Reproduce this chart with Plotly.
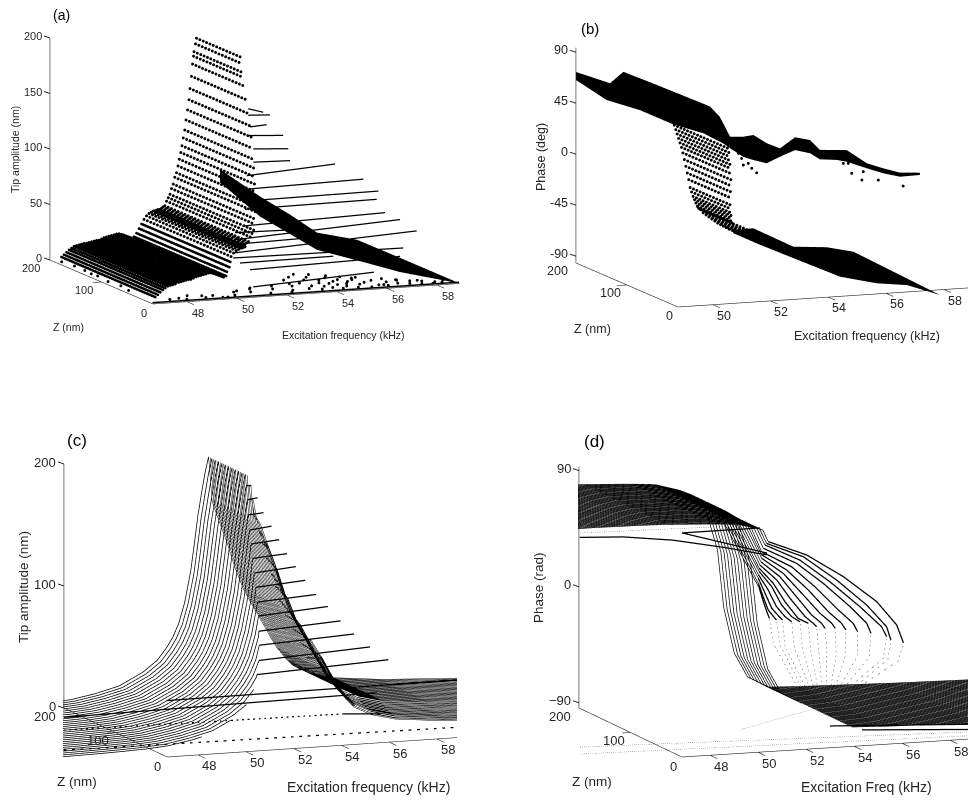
import math
import plotly.graph_objects as go

ORTHO_H = 0.5         # half view height per unit of camera distance
DIST = 2.0
W, H = 968, 800
BLACK = "#000000"
INK = "#262626"
FONT = "Liberation Sans, Arial, sans-serif"

# ---------------- shared levels ----------------
Z_LEVELS = [200,193.5,187,180.5,174,167.5,161,154.5,148,141.5,135,128.5,122,115.5,109,102.5,
            96,89.5,83,76.5,70,63.5,57,50.5,44,37.5,31,24.5,18,11.5]
Z_MIDS = [196.75,190.25,183.75,177.25,170.75,164.25,157.75,151.25,144.75,138.25,131.75,125.25,118.75,112.25,105.75,99.25,
          92.75,86.25,79.75,73.25,66.75,60.25,53.75,47.25,40.75,34.25,27.75,21.25,14.75]

# ---------------- panel (a) ----------------
A_ROW_F = [52.50,52.46,52.40,52.38,52.34,52.30,52.24,52.20,52.14,52.08,52.03,51.97,51.92,51.87,51.81,51.76,51.70,51.63,51.57,51.50,51.44,51.37,51.30,51.23,
           51.16,51.10,51.03,50.96,50.9,50.83,50.77,50.7,50.6,50.5,50.4,50.3,50.2,50.1,50.0,49.9,49.8,49.7,49.6,49.5,49.4,49.3,49.2,49.1,49,48.9,48.8,48.7,48.6,48.5,48.4,48.3,48.2,48.1,48,47.9,47.8,47.7,47.6,47.5,47.4,47.3,47.2,47.1]
A_ROW_A = [191,186,179,175,168,157,146,136,127,118,109,102,95,89,83,77,71,67,61,57,52,49,46,42,
           41,40,39,39,38.5,38,38,37,36,34,31,27,23,19,16,15,16,17,18,19,19.6,19.6,19,18.5,18,17.5,17,16,15,15,14.5,14,13.5,13,13,12.5,12,11.5,11,9.5,8,6,4,2]
A_ROW_ZEND = [113,110,106,103,100,93,87,81,76,71,66,62,58,55,52,49,46,44,41,39,37,36,35,33,
              33,32,32,31,31,31,30,30,30,29,28,26,24,22,20,20,20,20,20,20,20,20,20,20,20,20,20,20,20,19,19,19,19,19,19,18,18,18,18,18,18,18,18,18]
A_BAND_F = [[53.44,54.22,54.8,55.26,56.24,57.34,58.92],[53.44,54.22,54.8,55.26,56.64,57.34,58.92]]
A_BAND_Z = [[200,160,130,100,70,40,0],[200,160,130,100,70,40,0]]
A_BAND_A = [[71.5,53.7,42.5,31.5,29.6,17.6,0],[59.7,35.6,25,16,8,4.8,0]]
A_UP_Z  = [88,80,75,70,66,62,50,45,40,36,32,28,24,22,20,18,14,12]
A_UP_F0 = [52.26,52.1,52.06,51.89,52.01,51.93,51.42,51.32,51.21,51.06,50.91,50.56,50.35,50.37,50.26,50.22,50.41,50.77]
A_UP_A0 = [150,146,136.5,130,118.6,107.5,98.5,87.5,78,71.5,57.5,46.6,35.6,54.3,44.2,32.5,28.5,22.3]
A_UP_F1 = [52.86,52.97,52.73,53.29,53.41,53.4,54.95,55.98,56.48,56.33,56.58,57.1,57.68,52.97,54,57.02,54.14,56.77]
A_UP_A1 = [146,145,137.5,128,116.6,106.7,103.7,89.5,79,72.6,61,54.8,44.5,53.3,46,31.3,29,25.3]
A_SC_F = [46.9,47,47,46.95,47,46.9,47,46.9,47.6,48.2,48.5,49,49.4,49.8,50.2,50.6,51,51.3,51.6,52,52.2,52.6,52.9,53.1,53.3,53.4,53.5,53.6,53.7,53.8,53.9,54,54.1,54.1,54.2,54.3,54.4,54.4,54.5,54.6,54.7,54.7,54.8,54.9,55,55,55.1,55.2,55.3,55.4,55.5,55.6,55.7,55.8,56,56.1,56.3,56.5,56.6,56.8,57,57.2,57.4,57.6,57.8,58,58.2,48,49,49.6,50.4,51.2,52.4,53,55.6,56.2,57,57.7,58.4,58.6]
A_SC_Z = [190,170,150,135,125,100,80,60,14,10,24,12,18,8,14,30,22,38,12,28,40,18,34,60,20,44,70,30,14,55,80,25,40,65,18,50,35,75,12,28,58,42,20,66,30,48,12,38,58,24,44,10,30,52,16,36,12,26,40,18,30,14,24,10,20,8,14,16,20,8,26,34,10,44,50,16,32,24,10,18,6,12]
A_LOW_F = [50.77,55.6]
A_LOW_A = [8,14]

# ---------------- panel (b) ----------------
B_ROW_F = [52.2,52.25,52.3,52.35,52.4,52.45,52.5,52.55,52.6,52.65,52.7,52.75,52.8,52.85,52.9,52.95,53.0,53.05,53.1,53.2,53.3,53.4,53.5,53.6,53.7,53.8,53.9,54,54.1,54.25]
B_ROW_P = [20,16,12,8,4,0,-5,-11,-17,-23,-29,-36,-40,-44,-47,-50,-53,-55,-56,-59,-61,-63,-65,-67,-69,-70.5,-72,-73.5,-75,-76]
B_ROW_ZEND = [93,95,97,99,101,103,105,108,111,115,118,122,124,126,128,130,130,130,100,95,90,85,85,85,85,85,90,95,100,110]
B_TOP_F = [[48.8,49.98,50.44,50.45,50.47,50.6,50.78],[48.8,48.8,48.9,48.83,49.77,50.42,50.63]]
B_TOP_Z = [[200,200,200,135,32,20,10],[200,140,80,11,5,3,2]]
B_TOP_P = [[72.6,60.7,70,71,72,65,49],[65.5,59.5,62,63,54.7,45,40.8]]
B_LOW_F = [[54.24,54.23,54.91,55.53,56.1,56.84,57.87],[53.71,54.17,54.61,55.64,56.56,57.16,57.87]]
B_LOW_Z = [[200,160,120,90,70,40,0],[170,150,110,70,50,25,0]]
B_LOW_P = [[-76,-66.7,-76.3,-72,-73,-84.6,-100.6],[-72,-78,-82.7,-94.3,-97.8,-95.5,-100.6]]
B_WIG_F = [51.13,51.59,51.94,52.4,52.86,53.38,53.9,54.24,54.82,55.17,55.86,56.43,57.01,57.7]
B_WIG_TOP = [44.6,43.8,44.7,36.7,31.4,40.3,37,27.7,26.7,26,13.2,7.8,3,1.8]
B_WIG_BOT = [34.4,26,22.6,19,24,29,25.3,19.4,17.9,15.7,8.8,3.4,-0.6,-0.2]
B_WIG_Z = 30
B_TEN_F = [51.42,51.53,51.59,51.76,51.88,52.05,55.05,55.34,55.69,55.22,55.74,56.26,57.12]
B_TEN_P = [29.4,24.8,18.8,20,15.4,11.2,14.5,5.2,-1.3,14.2,6,-2.3,-9]

# ---------------- panel (c) ----------------
C_RISE_F = [42,43,44,45,46,47,48,49,50,50.6,51,51.25,51.5,51.75,52,52.15,52.3,52.45,52.6,52.75]
C_RISE_A = [3,3.4,3.8,4.3,5,6.5,10,15,25,34,44,52,63,80,105,127,150,168,185,198]
C_FALL_F = [52.9,53.2,53.5,53.85,54.2,54.55,54.9,55.25,55.6,56,56.3,57,58,60,63,66]
C_FALL_A = [161,144,128,106,88,75,63,50,38,28,22,15,10,6,3,2]
C_RIDGE_F = [52.75]*12 + [52.65,52.56,52.45,52.37,52.29,52.21,52.14,52.07,52.0,51.9,51.77,51.65,51.5,51.27,51,50.55,49.75,48.4]
C_RIDGE_A = [198]*12 + [190,180,169,158,148,137.6,127,116.7,106,96,85,75,64,54,43.5,33,22.5,12]
C_THICK_DF = [.21,.42,.64,.91,1.17,1.44,1.74,2.06,2.45,2.9,3.42,3.97,4.64,5.5]
C_THICK_DA = [0,1,1,2,2,2,3,3,3,4,4,4,5,5]
C_FALL_START = [52.77,52.73,52.66,52.73,52.75,52.77,52.81,52.87,52.92,52.98,53.19,53.35,53.45,53.6]
C_FALL_SHIFT = [0,0,0,.13,.24,.33,.41,.5,.56,.64,.64,.72,.85,.96]
C_LONG_Z = [10,5,3,3,1]
C_LONG_F = [[46.9,59.5],[42.5,55.6],[42.45,54.1],[54.1,55.7],[42.4,60]]
C_LONG_A = [[44,45],[37,40],[27,25],[25,23],[11,8]]
C_LONG_STYLE = ["solid","solid","dash","solid","dash"]

# ---------------- panel (d) ----------------
D_F = [42,44,46,47,48,49,50,51,51.5,52,52.2,52.6,52.86,53.3,53.85,54.7,56,58,60,63,66]
D_P = [80,80,79.5,79,78,77,75.5,70,66,60,48,21.7,-23,-59,-78,-87,-88,-89,-90,-91,-92]
D_ARC_Z = [128.5,122,115.5,109,102.5,96,89.5,83,76.5,70,63.5,57,50.5,44,37.5]
D_ARC_F = [[52.81,52.98,53.12,53.23],[52.63,52.83,53.04,53.32,53.39],[52.49,52.77,53.05,53.36,53.5],[52.36,52.76,53.11,53.46,53.74],[52.25,52.77,53.18,53.6,53.95],
           [52.11,52.69,53.18,53.73,54.15],[52,52.7,53.25,53.88,54.22,54.36],[51.89,52.69,53.32,54.01,54.43,54.57],[51.79,52.69,53.46,54.22,54.71,54.85],[51.65,52.69,53.59,54.43,54.98,55.16],
           [51.51,52.76,53.73,54.71,55.33,55.51],[51.44,52.83,53.94,55.06,55.75,55.93],[51.37,52.83,54.08,55.33,56.23,56.44],[51.3,52.83,54.22,55.47,56.3,56.48],[51.23,52.83,54.36,55.75,56.58,56.86]]
D_ARC_P = [[5.4,-5.2,-13.1,-18.3],[10.7,.1,-10.4,-17.2,-18.6],[16,4,-7.9,-14.8,-17.5],[20,7.9,-5.5,-13.6,-17.9],[23.9,11.7,-3,-12.6,-16.9],
           [27.9,15.6,.8,-12.8,-17.1],[31.8,19.4,4.6,-10.4,-16,-18.7],[35.8,23.2,8.3,-8,-15,-19],[39.8,27,10.7,-5.7,-14,-18],[43.8,30.9,14.4,-3.5,-13.1,-18.5],
           [47.6,34.5,17.9,-1.3,-12.4,-19],[51.6,38.3,21.5,2.1,-11.6,-19.6],[55.5,42,23.8,3,-13.5,-21.5],[58,45.9,26.2,5.4,-12.4,-23],[60.7,48.5,29.9,8.9,-10.1,-24.2]]
D_DOT_MID_F = [53.39,53.53,53.6,53.85,54.05,54.25,54.45,54.65,54.9,55.15,55.5,55.85,56.3,56.35,56.65]
D_DOT_MID_P = [-38]*15
D_DOT_END_F = [54.43,54.46,54.48,54.51,54.54,54.56,54.59,54.62,54.65,54.67,54.7,54.73,54.75,54.78,54.81]
D_DOT_END_P = [-74,-73,-72,-71,-70,-69,-68,-67,-66,-65,-63,-62,-61,-60,-58.5]
D_THICK_Z = [12,20,20,12,6]
D_THICK_F = [[42.83,44.63,46.7,48.8,50.63],[47.26,50.8],[47.26,50.5],[53.25,60],[54.46,60]]
D_THICK_P = [[78.6,76.9,72,64,56],[75.4,55.7],[75.4,75.5],[-79.7,-86],[-83,-89]]
D_DOTTED_Z = [27,5,1,25]
D_DOTTED_F = [[43.16,48.58],[42.69,60],[42.6,60],[49.8,52.7]]
D_DOTTED_P = [[78.8,77],[-82.4,-90],[-87,-92],[-81,-69]]

# ---------------- geometry of the four views (pixels in the page) ----------------
VIEWS = {
 "scene":  dict(O=(153,304), ex=(25,1.67),   ez=(-.515,.22),  ea=1.11,  f0=46.64, a0=0,   dom=(40,480,20,345),
                zr=(-12,215), fend=58.9, amax=200, aticks=[0,50,100,150,200], fticks=[48,50,52,54,56,58], fs=11, neg="-90"),
 "scene2": dict(O=(678,307), ex=(28.9,1.9),  ez=(-.51,.22),   ea=1.133, f0=48.8,  a0=-96, dom=(560,968,30,345),
                zr=(-110,100), fend=60, amax=94, aticks=[-90,-45,0,45,90], fticks=[50,52,54,56,58], fs=12.5, neg="-90"),
 "scene3": dict(O=(167,757), ex=(23.9,1.6),  ez=(-.515,.245), ea=1.22,  f0=46.7,  a0=0,   dom=(63,457,440,790),
                zr=(-10,215), fend=60, amax=200, aticks=[0,100,200], fticks=[48,50,52,54,56,58], fs=13, neg="-90"),
 "scene4": dict(O=(682,757), ex=(24,1.5),    ez=(-.515,.245), ea=1.29,  f0=46.83, a0=-94, dom=(578,968,440,790),
                zr=(-105,100), fend=60, amax=93, aticks=[-90,0,90], fticks=[48,50,52,54,56,58], fs=13, neg="\u221290"),
}
XR = (38,67)
YR = (-15,215)

def camera_for(v):
    dom = v["dom"]
    cw, ch = dom[1]-dom[0], dom[3]-dom[2]
    exd, exu = v["ex"]; ezd, ezu = v["ez"]
    s = math.sqrt((exu/exd)*(-ezu/ezd))
    th = math.asin(s)
    ph = math.pi + math.atan((-ezu/ezd)/s)
    sx = -exd/math.sin(ph); sy = ezd/math.cos(ph); sz = v["ea"]/math.cos(th)
    k = ch/(2*ORTHO_H*DIST)
    LX, LY, LZ = XR[1]-XR[0], YR[1]-YR[0], v["zr"][1]-v["zr"][0]
    asp = dict(x=sx*LX/k, y=sy*LY/k, z=sz*LZ/k)
    mf, mz, ma = sum(XR)/2, sum(YR)/2, sum(v["zr"])/2
    X = v["O"][0] + (mf-v["f0"])*exd + mz*ezd
    Y = v["O"][1] - (mf-v["f0"])*exu - mz*ezu - (ma-v["a0"])*v["ea"]
    cx, cy = dom[0]+cw/2, dom[2]+ch/2
    e = (math.cos(th)*math.cos(ph), math.cos(th)*math.sin(ph), math.sin(th))
    R = (-math.sin(ph), math.cos(ph), 0)
    U = (-math.sin(th)*math.cos(ph), -math.sin(th)*math.sin(ph), math.cos(th))
    al, be = (cx-X)/k, (Y-cy)/k
    c = [al*R[i]+be*U[i] for i in range(3)]
    eye = [c[i]+DIST*e[i] for i in range(3)]
    return asp, dict(center=dict(x=c[0],y=c[1],z=c[2]), eye=dict(x=eye[0],y=eye[1],z=eye[2]),
                     up=dict(x=0,y=0,z=1), projection=dict(type="orthographic"))

fig = go.Figure()

def lines(scene, xs, ys, zs, width=1.5, color=BLACK, dash="solid"):
    X, Y, Z = [], [], []
    for a, b, c in zip(xs, ys, zs):
        X += list(a)+[None]; Y += list(b)+[None]; Z += list(c)+[None]
    fig.add_trace(go.Scatter3d(x=X, y=Y, z=Z, mode="lines", scene=scene, showlegend=False, hoverinfo="skip",
                               line=dict(color=color, width=width, dash=dash)))

def dots(scene, xs, ys, zs, size=1.7, color=BLACK):
    fig.add_trace(go.Scatter3d(x=xs, y=ys, z=zs, mode="markers", scene=scene, showlegend=False, hoverinfo="skip",
                               marker=dict(color=color, size=size, line=dict(width=0))))

def sheet(scene, xs, ys, zs):
    fig.add_trace(go.Surface(x=xs, y=ys, z=zs, scene=scene, showscale=False, hoverinfo="skip",
                             colorscale=[[0,BLACK],[1,BLACK]], lighting=dict(ambient=1,diffuse=0,specular=0,roughness=1,fresnel=0)))

# ---- (a)
xa, ya, za, xb, yb, zb = [], [], [], [], [], []
for f, a, ze in zip(A_ROW_F, A_ROW_A, A_ROW_ZEND):
    for z in Z_LEVELS:
        if z >= ze:
            if a > 30:
                xa.append(f); ya.append(z); za.append(a)
            else:
                xb.append(f); yb.append(z); zb.append(a)
    if a <= 30:
        for z in Z_MIDS:
            if z >= ze:
                xb.append(f); yb.append(z); zb.append(a)
dots("scene", xa, ya, za, 1.7)
dots("scene", xb, yb, zb, 1.6)
sheet("scene", A_BAND_F, A_BAND_Z, A_BAND_A)
lines("scene", [[f0,f1] for f0,f1 in zip(A_UP_F0,A_UP_F1)], [[z,z] for z in A_UP_Z], [[a0,a1] for a0,a1 in zip(A_UP_A0,A_UP_A1)], 2.5)
lines("scene", [A_LOW_F], [[6,6]], [A_LOW_A], 2.5)
dots("scene", A_SC_F, A_SC_Z, [0]*len(A_SC_F), 1.7)
lines("scene", [[46.64,58.9]], [[1,1]], [[1,1]], 3)

# ---- (b)
xa, ya, za = [], [], []
for f, p, ze in zip(B_ROW_F, B_ROW_P, B_ROW_ZEND):
    for z in Z_LEVELS:
        if z >= ze:
            xa.append(f); ya.append(z); za.append(p)
dots("scene2", xa, ya, za, 1.7)
sheet("scene2", B_TOP_F, B_TOP_Z, B_TOP_P)
sheet("scene2", B_LOW_F, B_LOW_Z, B_LOW_P)
sheet("scene2", [B_WIG_F,B_WIG_F], [[B_WIG_Z]*len(B_WIG_F)]*2, [B_WIG_TOP,B_WIG_BOT])
dots("scene2", B_TEN_F, [B_WIG_Z]*len(B_TEN_F), B_TEN_P, 1.7)

# ---- (c)
rx, ry, rz, tx, ty, tz, fx, fy, fz = [], [], [], [], [], [], [], [], []
for i, z in enumerate(Z_LEVELS):
    fr, ar = C_RIDGE_F[i], C_RIDGE_A[i]
    xs = [f for f in C_RISE_F if f < fr] + [fr]
    as_ = [a for f, a in zip(C_RISE_F, C_RISE_A) if f < fr] + [ar]
    rx.append(xs); ry.append([z]*len(xs)); rz.append(as_)
    if i < 12+len(C_THICK_DF):
        if i >= 12:
            j = i-12
            tx.append([fr,fr+C_THICK_DF[j]]); ty.append([z,z]); tz.append([ar,ar+C_THICK_DA[j]])
            fs, sh = C_FALL_START[j], C_FALL_SHIFT[j]
        else:
            fs, sh = fr, 0
        ff = [fs] + [f-sh for f, a in zip(C_FALL_F, C_FALL_A) if a < ar and f-sh > fs]
        aa = [ar] + [a for f, a in zip(C_FALL_F, C_FALL_A) if a < ar and f-sh > fs]
        for zz in ([z, Z_MIDS[i]] if i < 25 else [z]):
            fx.append(ff); fy.append([zz]*len(ff)); fz.append(aa)
lines("scene3", rx, ry, rz, 1.5)
lines("scene3", fx, fy, fz, 1)
lines("scene3", tx, ty, tz, 2.5)
for z, f, a, st in zip(C_LONG_Z, C_LONG_F, C_LONG_A, C_LONG_STYLE):
    lines("scene3", [f], [[z,z]], [a], 2.5, dash=st)

# ---- (d)
rx, ry, rz = [], [], []
for z in Z_LEVELS[:11]:
    rx.append(D_F); ry.append([z]*len(D_F)); rz.append(D_P)
lowx, lowy, lowz, dx, dy, dz = [], [], [], [], [], []
ft = [f for f in D_F if f >= 54.7]
pt = [p for f, p in zip(D_F, D_P) if f >= 54.7]
fl2 = [f for f in D_F if f < 51.5]
pl2 = [p for f, p in zip(D_F, D_P) if f < 51.5]
for k, z in enumerate(D_ARC_Z):
    af, ap = D_ARC_F[k], D_ARC_P[k]
    fl = [f for f in D_F if f < min(af[0], 51.5)]
    pl = [p for f, p in zip(D_F, D_P) if f < min(af[0], 51.5)]
    rx.append(fl+[af[0]]); ry.append([z]*(len(fl)+1)); rz.append(pl+[ap[0]])
    lowx.append(af); lowy.append([z]*len(af)); lowz.append(ap)
    dx.append([af[-1], D_DOT_MID_F[k], D_DOT_END_F[k]]); dy.append([z]*3); dz.append([ap[-1], D_DOT_MID_P[k], D_DOT_END_P[k]])
    rx.append(ft); ry.append([z]*len(ft)); rz.append(pt)
for z in Z_MIDS:
    if z > 40:
        rx.append(ft); ry.append([z]*len(ft)); rz.append(pt)
        rx.append(fl2); ry.append([z]*len(fl2)); rz.append(pl2)
lines("scene4", rx, ry, rz, 1.4)
lines("scene4", dx, dy, dz, 1, "#555555", "dot")
lines("scene4", lowx, lowy, lowz, 2.5)
for z, f, p in zip(D_THICK_Z, D_THICK_F, D_THICK_P):
    lines("scene4", [f], [[z]*len(f)], [p], 2.5)
for z, f, p in zip(D_DOTTED_Z, D_DOTTED_F, D_DOTTED_P):
    lines("scene4", [f], [[z]*len(f)], [p], 1, "#555555", "dot")

# ---- axes of all the panels
layout = {}
for name, v in VIEWS.items():
    f0, a0 = v["f0"], v["a0"]
    lines(name, [[f0,f0],[f0,v["fend"]],[f0,f0]], [[200,200],[0,0],[0,200]], [[a0,v["amax"]],[a0,a0],[a0,a0]], 1.2, INK)
    lines(name, [[t,t] for t in v["fticks"]], [[0,-14]]*len(v["fticks"]), [[a0,a0]]*len(v["fticks"]), 1.2, INK)
    lines(name, [[f0,f0-.35]], [[100,100]], [[a0,a0]], 1.2, INK)
    anns = []
    tf = dict(family=FONT, size=v["fs"], color=INK)
    for t in v["aticks"]:
        txt = v["neg"] if t == -90 else str(t)
        anns.append(dict(x=f0, y=200, z=t, text=txt, showarrow=True, ax=-6, ay=-2, arrowhead=0, arrowwidth=1,
                         arrowcolor=INK, xanchor="right", font=tf))
    for t in v["fticks"]:
        anns.append(dict(x=t, y=0, z=a0, text=str(t), showarrow=False, xshift=11, yshift=-11, font=tf))
    for t, xs, ys in [(200,-19,-8),(100,-17,-8),(0,-9,-9)]:
        anns.append(dict(x=f0, y=t, z=a0, text=str(t), showarrow=False, xshift=xs, yshift=ys, font=tf))
    asp, cam = camera_for(v)
    dom = v["dom"]
    ax = dict(visible=False, showspikes=False)
    layout[name] = dict(
        domain=dict(x=[dom[0]/W, dom[1]/W], y=[1-dom[3]/H, 1-dom[2]/H]),
        xaxis=dict(range=list(XR), **ax), yaxis=dict(range=list(YR), **ax), zaxis=dict(range=list(v["zr"]), **ax),
        aspectmode="manual", aspectratio=asp, camera=cam, bgcolor="rgba(0,0,0,0)", annotations=anns, dragmode=False)

PAGE_TEXT = [
 ("(a)",62,15,14,0),("Tip amplitude (nm)",15,150,10.5,-90),("Z (nm)",68,327,10.5,0),("Excitation frequency (kHz)",343,335,10.5,0),
 ("(b)",590,28,15,0),("Phase (deg)",541,157,12.5,-90),("Z (nm)",592,329,12.5,0),("Excitation frequency (kHz)",867,336,12.5,0),
 ("(c)",77,440,17,0),("Tip amplitude (nm)",23,587,13.5,-90),("Z (nm)",77,781,13.5,0),("Excitation frequency (kHz)",368,787,14,0),
 ("(d)",594,441,17,0),("Phase (rad)",538,588,13.5,-90),("Z (nm)",592,781,13.5,0),("Excitation Freq (kHz)",866,787,14,0),
]
annots = [dict(text=t, x=x/W, y=1-y/H, xref="paper", yref="paper", showarrow=False, textangle=r, xanchor="center", yanchor="middle",
               font=dict(family=FONT, size=s, color=INK if not t.startswith("(") or len(t)>3 else BLACK))
          for t,x,y,s,r in PAGE_TEXT]

fig.update_layout(width=W, height=H, margin=dict(l=0,r=0,t=0,b=0), paper_bgcolor="white", showlegend=False,
                  annotations=annots, **layout)
fig.write_html("out.html", config=dict(displayModeBar=False),
               post_script="document.body.style.margin='0';document.documentElement.style.overflow='hidden';")
